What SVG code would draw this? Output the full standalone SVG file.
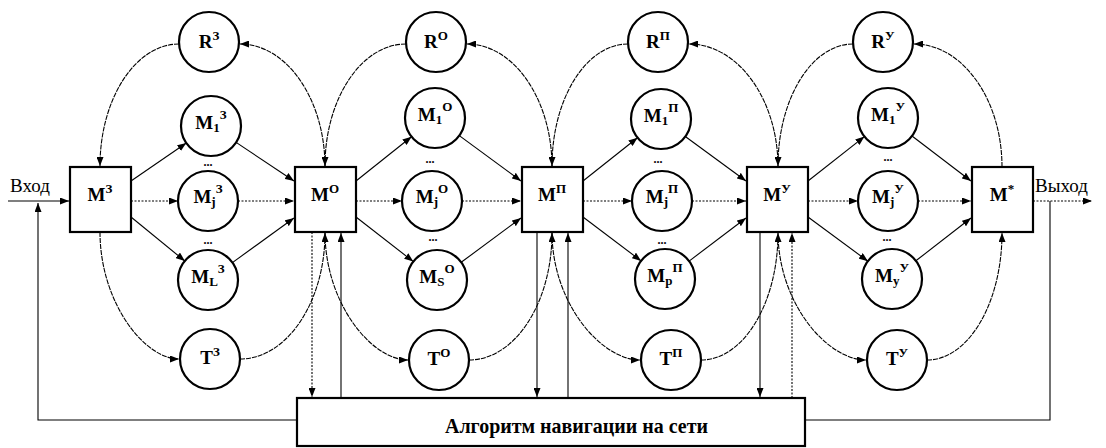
<svg xmlns="http://www.w3.org/2000/svg" width="1106" height="448" viewBox="0 0 1106 448">
  <defs>
    <marker id="arr" markerUnits="userSpaceOnUse" markerWidth="9" markerHeight="7" refX="9" refY="3.5" orient="auto">
      <path d="M0,0 L9,3.5 L0,7 z" fill="#000"/>
    </marker>
    <style>
      .node circle { fill: #fff; stroke: #000; stroke-width: 2.2; }
      .node rect { fill: #fff; stroke: #000; stroke-width: 2.2; }
      .lbl { font-family: "Liberation Serif", "DejaVu Serif", serif; font-weight: bold; font-size: 19px; text-anchor: middle; fill: #000; }
      .sub, .sup { font-size: 13px; }
      .dots { font-family: "Liberation Serif", serif; font-weight: bold; font-size: 12px; text-anchor: middle; fill: #000; }
      .io { font-family: "Liberation Serif", "DejaVu Serif", serif; font-size: 19px; fill: #000; }
      .alg { font-family: "Liberation Serif", "DejaVu Serif", serif; font-weight: bold; font-size: 21px; fill: #000; }
      #connectors path, #connectors line, #connectors polyline { fill: none; stroke: #000; stroke-width: 1.1; }
      .arrow { marker-end: url(#arr); }
      .dot { stroke-dasharray: 2 1.5; }
      .dash { stroke-dasharray: 5 1; }
    </style>
  </defs>
  <rect width="1106" height="448" fill="#fff"/>

  <!-- connectors -->
  <g id="connectors">
    <!-- input, output and feedback -->
    <line class="arrow" x1="8" y1="201" x2="69" y2="201"/>
    <polyline class="arrow" points="297,420 38,420 38,203"/>
    <line class="arrow dot" x1="1033" y1="201" x2="1092" y2="201"/>
    <polyline points="1050,201 1050,420 806,420"/>

    <!-- stage 1: M(З) -->
    <line class="arrow" x1="131" y1="181" x2="186.3" y2="143"/>
    <line class="arrow dot" x1="131" y1="201" x2="178" y2="201"/>
    <line class="arrow" x1="131" y1="217" x2="184.8" y2="261"/>
    <line class="arrow" x1="236.1" y1="142.4" x2="294" y2="181"/>
    <line class="arrow dot" x1="238" y1="201" x2="294" y2="201"/>
    <line class="arrow" x1="232.4" y1="262.6" x2="294" y2="218"/>
    <path class="arrow dash" d="M179,44 C135.4,44 100,99 100,166"/>
    <path class="arrow dash" d="M325,167 C325,99 286.5,44 240,44"/>
    <path class="arrow dash" d="M100,232 C100,302 144.2,359 179,359"/>
    <path class="arrow dash" d="M240,359 C286.9,359 325,302 325,233"/>

    <!-- stage 2: M(О) -->
    <line class="arrow" x1="356" y1="181" x2="411.5" y2="136.7"/>
    <line class="arrow dot" x1="356" y1="201" x2="402" y2="201"/>
    <line class="arrow" x1="356" y1="217" x2="413.3" y2="261.6"/>
    <line class="arrow" x1="459.3" y1="135.6" x2="521" y2="181"/>
    <line class="arrow dot" x1="462" y1="201" x2="521" y2="201"/>
    <line class="arrow" x1="461.2" y1="262.3" x2="521" y2="218"/>
    <path class="arrow dash" d="M406,44 C361.3,44 325,99 325,166"/>
    <path class="arrow dash" d="M552,167 C552,99 513.5,44 467,44"/>
    <path class="arrow dash" d="M325,232 C325,303 371.4,360 408,360"/>
    <path class="arrow dash" d="M469,360 C514.8,360 552,303 552,233"/>
    <line class="arrow dot" x1="312" y1="232" x2="312" y2="397"/>
    <line class="arrow" x1="341" y1="398" x2="341" y2="233"/>

    <!-- stage 3: M(П) -->
    <line class="arrow" x1="583" y1="181" x2="637.5" y2="137.7"/>
    <line class="arrow dot" x1="583" y1="201" x2="632" y2="201"/>
    <line class="arrow" x1="583" y1="217" x2="641.1" y2="260.9"/>
    <line class="arrow" x1="685.3" y1="136.5" x2="746" y2="181"/>
    <line class="arrow dot" x1="692" y1="201" x2="746" y2="201"/>
    <line class="arrow" x1="689.1" y1="261.1" x2="746" y2="218"/>
    <path class="arrow dash" d="M628,44 C586,44 552,99 552,166"/>
    <path class="arrow dash" d="M778,167 C778,99 737.7,44 689,44"/>
    <path class="arrow dash" d="M552,232 C552,303 601.2,360 640,360"/>
    <path class="arrow dash" d="M701,360 C743.5,360 778,303 778,233"/>
    <line class="arrow" x1="537" y1="232" x2="537" y2="397"/>
    <line class="arrow" x1="568" y1="398" x2="568" y2="233"/>

    <!-- stage 4: M(У) -->
    <line class="arrow" x1="808" y1="181" x2="864.4" y2="136.6"/>
    <line class="arrow dot" x1="808" y1="201" x2="858" y2="201"/>
    <line class="arrow" x1="808" y1="217" x2="867.9" y2="261.2"/>
    <line class="arrow" x1="912" y1="136" x2="971" y2="181"/>
    <line class="arrow dot" x1="918" y1="201" x2="971" y2="201"/>
    <line class="arrow" x1="915.9" y1="260.8" x2="971" y2="218"/>
    <path class="arrow dash" d="M853,44 C811.6,44 778,99 778,166"/>
    <path class="arrow dash" d="M1002,167 C1002,99 962.2,44 914,44"/>
    <path class="arrow dash" d="M778,232 C778,303 827.2,360 866,360"/>
    <path class="arrow dash" d="M927,360 C968.4,360 1002,303 1002,233"/>
    <line class="arrow" x1="760" y1="232" x2="760" y2="397"/>
    <line class="arrow dot" x1="792" y1="398" x2="792" y2="233"/>
  </g>

  <!-- input / output labels -->
  <text class="io" x="10" y="192">Вход</text>
  <text class="io" x="1035" y="192">Выход</text>

  <!-- boxes -->
  <g id="M3" class="node"><rect x="70" y="167" width="61" height="65"/><text class="lbl" x="100" y="201">M<tspan class="sup" dy="-8">З</tspan></text></g>
  <g id="MO" class="node"><rect x="295" y="167" width="61" height="65"/><text class="lbl" x="325" y="201">M<tspan class="sup" dy="-8">О</tspan></text></g>
  <g id="MP" class="node"><rect x="522" y="167" width="61" height="65"/><text class="lbl" x="552" y="201">M<tspan class="sup" dy="-8">П</tspan></text></g>
  <g id="MU" class="node"><rect x="747" y="167" width="61" height="65"/><text class="lbl" x="777" y="201">M<tspan class="sup" dy="-8">У</tspan></text></g>
  <g id="Mstar" class="node"><rect x="972" y="167" width="61" height="65"/><text class="lbl" x="1002" y="201">M<tspan class="sup" dy="-8">*</tspan></text></g>

  <!-- column 1 -->
  <g id="R3" class="node"><circle cx="209" cy="42" r="30"/><text class="lbl" x="209" y="48">R<tspan class="sup" dy="-8">З</tspan></text></g>
  <g id="M1_3" class="node"><circle cx="211" cy="126" r="30"/><text class="lbl" x="211" y="129">M<tspan class="sub" dy="3">1</tspan><tspan class="sup" dy="-13">З</tspan></text></g>
  <g id="Mj_3" class="node"><circle cx="208" cy="201" r="30"/><text class="lbl" x="208" y="203">M<tspan class="sub" dy="3">j</tspan><tspan class="sup" dy="-13">З</tspan></text></g>
  <g id="ML_3" class="node"><circle cx="208" cy="280" r="30"/><text class="lbl" x="208" y="283">M<tspan class="sub" dy="3">L</tspan><tspan class="sup" dy="-13">З</tspan></text></g>
  <g id="T3" class="node"><circle cx="210" cy="359" r="30"/><text class="lbl" x="210" y="364">T<tspan class="sup" dy="-8">З</tspan></text></g>
  <text class="dots" x="208" y="166">...</text>
  <text class="dots" x="208" y="244">...</text>

  <!-- column 2 -->
  <g id="RO" class="node"><circle cx="436" cy="42" r="30"/><text class="lbl" x="436" y="48">R<tspan class="sup" dy="-8">О</tspan></text></g>
  <g id="M1_O" class="node"><circle cx="435" cy="118" r="30"/><text class="lbl" x="435" y="121">M<tspan class="sub" dy="3">1</tspan><tspan class="sup" dy="-13">О</tspan></text></g>
  <g id="Mj_O" class="node"><circle cx="432" cy="201" r="30"/><text class="lbl" x="432" y="203">M<tspan class="sub" dy="3">j</tspan><tspan class="sup" dy="-13">О</tspan></text></g>
  <g id="MS_O" class="node"><circle cx="437" cy="280" r="30"/><text class="lbl" x="437" y="283">M<tspan class="sub" dy="3">S</tspan><tspan class="sup" dy="-13">О</tspan></text></g>
  <g id="TO" class="node"><circle cx="439" cy="360" r="30"/><text class="lbl" x="439" y="365">T<tspan class="sup" dy="-8">О</tspan></text></g>
  <text class="dots" x="430" y="163">...</text>
  <text class="dots" x="433" y="241">...</text>

  <!-- column 3 -->
  <g id="RP" class="node"><circle cx="658" cy="42" r="30"/><text class="lbl" x="658" y="48">R<tspan class="sup" dy="-8">П</tspan></text></g>
  <g id="M1_P" class="node"><circle cx="661" cy="119" r="30"/><text class="lbl" x="661" y="122">M<tspan class="sub" dy="3">1</tspan><tspan class="sup" dy="-13">П</tspan></text></g>
  <g id="Mj_P" class="node"><circle cx="662" cy="201" r="30"/><text class="lbl" x="662" y="203">M<tspan class="sub" dy="3">j</tspan><tspan class="sup" dy="-13">П</tspan></text></g>
  <g id="Mp_P" class="node"><circle cx="665" cy="279" r="30"/><text class="lbl" x="665" y="282">M<tspan class="sub" dy="3">p</tspan><tspan class="sup" dy="-13">П</tspan></text></g>
  <g id="TP" class="node"><circle cx="671" cy="360" r="30"/><text class="lbl" x="671" y="365">T<tspan class="sup" dy="-8">П</tspan></text></g>
  <text class="dots" x="658" y="163">...</text>
  <text class="dots" x="662" y="244">...</text>

  <!-- column 4 -->
  <g id="RU" class="node"><circle cx="883" cy="42" r="30"/><text class="lbl" x="883" y="48">R<tspan class="sup" dy="-8">У</tspan></text></g>
  <g id="M1_U" class="node"><circle cx="888" cy="118" r="30"/><text class="lbl" x="888" y="121">M<tspan class="sub" dy="3">1</tspan><tspan class="sup" dy="-13">У</tspan></text></g>
  <g id="Mj_U" class="node"><circle cx="888" cy="201" r="30"/><text class="lbl" x="888" y="203">M<tspan class="sub" dy="3">j</tspan><tspan class="sup" dy="-13">У</tspan></text></g>
  <g id="My_U" class="node"><circle cx="892" cy="279" r="30"/><text class="lbl" x="892" y="282">M<tspan class="sub" dy="3">y</tspan><tspan class="sup" dy="-13">У</tspan></text></g>
  <g id="TU" class="node"><circle cx="897" cy="360" r="30"/><text class="lbl" x="897" y="365">T<tspan class="sup" dy="-8">У</tspan></text></g>
  <text class="dots" x="888" y="161">...</text>
  <text class="dots" x="887" y="241">...</text>

  <!-- navigation algorithm block -->
  <g id="algorithm" class="node">
    <rect x="297" y="398" width="508" height="48"/>
    <text class="alg" x="445" y="433" textLength="263" lengthAdjust="spacingAndGlyphs">Алгоритм навигации на сети</text>
  </g>
</svg>
